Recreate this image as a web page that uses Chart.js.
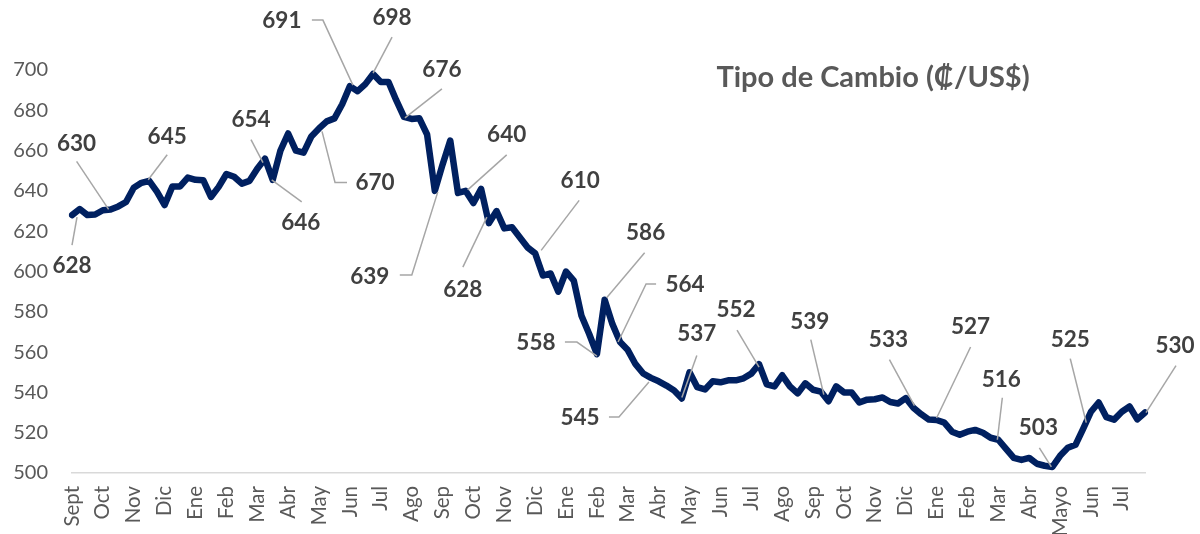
<!DOCTYPE html>
<html>
<head>
<meta charset="utf-8">
<script src="https://cdn.jsdelivr.net/npm/chart.js@4.4.1/dist/chart.umd.min.js"></script>
<style>
  html, body { margin: 0; padding: 0; background: #fff; }
  #wrap { width: 1200px; height: 534px; position: relative; }
</style>
</head>
<body>
<div id="wrap"><canvas id="tipoCambio"></canvas></div>
<script>
// month names on the x axis (Sept 2021 .. Jul 2024)
const months = ['Sept','Oct','Nov','Dic','Ene','Feb','Mar','Abr','May','Jun','Jul','Ago',
  'Sep','Oct','Nov','Dic','Ene','Feb','Mar','Abr','May','Jun','Jul','Ago',
  'Sep','Oct','Nov','Dic','Ene','Feb','Mar','Abr','Mayo','Jun','Jul'];

// exchange rate, roughly 4 readings per month
const rates = [
  628, 631, 628, 628.3, 630.4, 630.8, 632.3, 634.5, 641.6, 644,
  645, 639.6, 633, 642.2, 642.2, 646.6, 645.5, 645.3, 637, 642,
  648.4, 647, 643.6, 645, 651, 656, 645.5, 660, 668.5, 660,
  659, 667, 671, 674.5, 676, 683, 692, 689.5, 693, 698,
  694, 694, 685, 676.7, 675.7, 676, 668, 640, 653, 665,
  639, 640, 634, 641, 624, 630, 621.4, 622, 617, 612,
  609, 598, 599, 590, 600, 595.5, 578, 569, 559, 586,
  574, 565, 561, 554, 549.4, 547.2, 545.5, 543.4, 541, 537,
  550, 542.6, 541.5, 545.5, 545, 546, 546, 547, 549.3, 554,
  544, 543, 548.5, 543, 539.5, 544.5, 541.3, 540.4, 535.6, 543,
  540, 540, 535, 536.4, 536.6, 537.5, 535.2, 534.5, 537.2, 532.4,
  529.2, 526.5, 526.3, 525, 520.5, 519, 520.5, 521.4, 520, 517.5,
  516.5, 512, 507.5, 506.5, 507.5, 504.6, 503.6, 503, 508.5, 512.5,
  514, 522, 530.4, 535, 527.7, 526.5, 530.4, 533, 526.6, 530
];

const yMin = 500;
const yMax = 700;
const yStep = 20;

// callouts: which reading they point at and the text shown
const calloutIdx  = [0, 5, 10, 25, 26, 36, 39, 32, 43, 47, 51, 54, 60, 69, 68, 71, 75, 79, 89, 97, 109, 112, 120, 127, 131, 139];
const calloutText = ['628','630','645','654','646','691','698','670','676','639','640','628','610','586','558','564','545','537','552','539','533','527','516','503','525','530'];

// label placement relative to the point (px), plus leader line path
const calloutLayout = [
  { lab: [0, 51],    path: [[5, 2], [0, 30]] },
  { lab: [-34, -66], path: [[-2, 0], [-34, -48]] },
  { lab: [18, -44],  path: [[-1, -1], [18, -26]] },
  { lab: [-14, -39], path: [[-2, 4], [-14, -19]] },
  { lab: [28, 43],   path: [[-1, 0], [29, 22]] },
  { lab: [-68, -65], path: [[3, -1], [-27, -66], [-38, -66]] },
  { lab: [19, -56],  path: [[0, -1], [19, -37]] },
  { lab: [56, 54],   path: [[3, 3], [16, 54], [28, 54]] },
  { lab: [38, -47],  path: [[1, 1], [38, -28]] },
  { lab: [-65, 86],  path: [[3, 1], [-23, 84], [-35, 84]] },
  { lab: [41, -56],  path: [[2, -1], [41, -36]] },
  { lab: [-26, 67],  path: [[-2, -6], [-26, 44]] },
  { lab: [45, -73],  path: [[6, -3], [44, -53]] },
  { lab: [41, -67],  path: [[2, -2], [40, -47]] },
  { lab: [-61, -11], path: [[0, 2], [-20, -12], [-32, -12]] },
  { lab: [65, -57],  path: [[-2, 0], [26, -58], [36, -58]] },
  { lab: [-71, 40],  path: [[-2, 4], [-32, 39], [-42, 39]] },
  { lab: [15, -65],  path: [[0, -1], [15, -43]] },
  { lab: [-23, -54], path: [[0, 3], [-22, -34]] },
  { lab: [-11, -70], path: [[3, 3], [-10, -52]] },
  { lab: [-25, -68], path: [[1, -2], [-24, -48]] },
  { lab: [34, -93],  path: [[0, -2], [34, -73]] },
  { lab: [3, -60],   path: [[-1, 0], [4, -42]] },
  { lab: [-14, -39], path: [[-1, 0], [-13, -19]] },
  { lab: [-13, -89], path: [[3, -6], [-13, -70]] },
  { lab: [30, -67],  path: [[1, 0], [31, -47]] }
];

const FONT = 'Lato, "Open Sans", sans-serif';

// one category per reading, month name on the first reading of each month
const labels = [];
months.forEach(m => { labels.push(m, '', '', ''); });

const calloutPlugin = {
  id: 'callouts',
  afterDatasetsDraw(chart) {
    const { ctx } = chart;
    const xs = chart.scales.x;
    const ys = chart.scales.y;
    ctx.save();
    calloutIdx.forEach((idx, i) => {
      const px = xs.getPixelForValue(idx);
      const py = ys.getPixelForValue(rates[idx]);
      const lay = calloutLayout[i];
      ctx.strokeStyle = '#a6a6a6';
      ctx.lineWidth = 1.5;
      ctx.beginPath();
      lay.path.forEach((p, k) => {
        if (k === 0) ctx.moveTo(px + p[0], py + p[1]);
        else ctx.lineTo(px + p[0], py + p[1]);
      });
      ctx.stroke();
      ctx.fillStyle = '#404040';
      ctx.font = 'bold 22.5px ' + FONT;
      ctx.textAlign = 'center';
      ctx.textBaseline = 'middle';
      ctx.fillText(calloutText[i], px + lay.lab[0], py + lay.lab[1]);
    });
    // chart title
    ctx.fillStyle = '#595959';
    ctx.font = 'bold 29px ' + FONT;
    ctx.textAlign = 'center';
    ctx.textBaseline = 'middle';
    ctx.fillText('Tipo de Cambio (₡/US$)', 873, 78);
    ctx.restore();
  }
};

new Chart(document.getElementById('tipoCambio'), {
  type: 'line',
  data: {
    labels: labels,
    datasets: [{
      label: 'Tipo de Cambio',
      data: rates,
      borderColor: '#002060',
      borderWidth: 6.5,
      pointRadius: 0,
      tension: 0,
      borderJoinStyle: 'round',
      borderCapStyle: 'round',
      fill: false
    }]
  },
  options: {
    responsive: true,
    maintainAspectRatio: false,
    animation: false,
    layout: { padding: { top: 70, right: 55, bottom: 0, left: 0 } },
    plugins: {
      legend: { display: false },
      tooltip: { enabled: false }
    },
    scales: {
      x: {
        type: 'category',
        grid: { display: false, drawTicks: false },
        border: { display: true, color: '#d9d9d9', width: 1.5 },
        ticks: {
          autoSkip: false,
          minRotation: 90,
          maxRotation: 90,
          padding: 13,
          color: '#595959',
          font: { family: FONT, size: 20.5 }
        },
        afterFit(scale) { scale.height = 61; }
      },
      y: {
        min: yMin,
        max: yMax,
        grid: { display: false, drawTicks: false },
        border: { display: false },
        ticks: {
          stepSize: yStep,
          padding: 24,
          color: '#595959',
          font: { family: FONT, size: 20 }
        },
        afterFit(scale) { scale.width = 72; }
      }
    }
  },
  plugins: [calloutPlugin]
});
</script>
</body>
</html>
